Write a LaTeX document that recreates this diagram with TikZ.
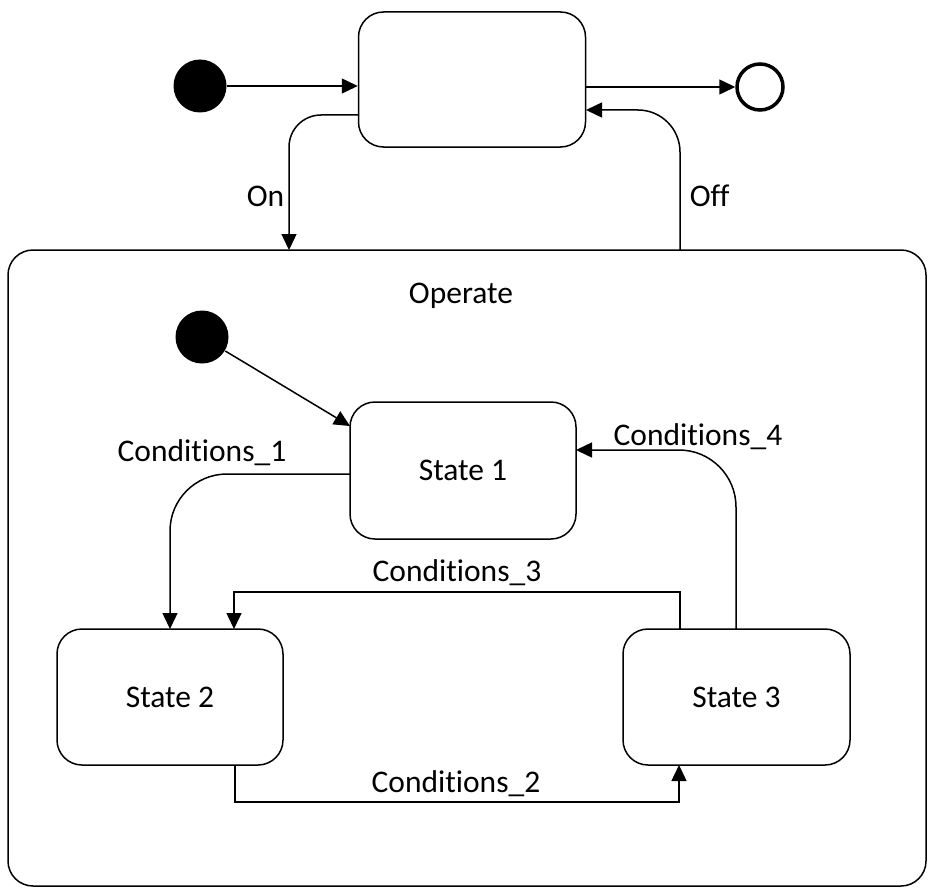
\documentclass[tikz,border=0pt]{standalone}
\usepackage{fontspec}
\setmainfont[Ligatures=NoCommon, RawFeature=-liga]{Carlito}
\usetikzlibrary{arrows.meta}
\begin{document}
\begin{tikzpicture}[x=1pt,y=-1pt,
  line width=1.5pt,
  every node/.style={font=\fontsize{31.5}{36}\selectfont, inner sep=0pt},
  statebox/.style={draw, rounded corners=25pt, minimum width=#1, minimum height=136pt},
  startdot/.style={circle, fill=black, minimum size=53pt},
  enddot/.style={circle, draw, line width=3.5pt, minimum size=46pt},
  arr/.style={-{Triangle[length=16pt,width=15pt]}}
]
\useasboundingbox (0,0) rectangle (928,888);

% outer states
\node[draw, rounded corners=25pt, minimum width=918pt, minimum height=636pt] (operate) at (467,568) {};
\node[statebox=227pt, minimum height=135pt] (top) at (472,79.5) {};
\node[startdot] (init) at (200,86) {};
\node[enddot] (final) at (760,87) {};

\coordinate (topin) at (top.west |- init);
\coordinate (topout) at (top.east |- final);
\draw[arr] (init) -- (topin);
\draw[arr] (topout) -- (final);

% On / Off
\coordinate (onstart) at (359,115);
\coordinate (onend) at (289,250);
\draw[arr, rounded corners=32pt] (onstart) -| (onend);
\node[anchor=east] (onlbl) at (285,196) {On};

\coordinate (offstart) at (680,250);
\coordinate (offend) at (586,110);
\draw[arr, rounded corners=42pt] (offstart) |- (offend);
\node[anchor=west] (offlbl) at (689,196) {Off};

\node (operatelbl) at (461,296) {Operate};

% inner states
\node[startdot] (init2) at (202,337) {};
\node[statebox=226pt, minimum height=137pt] (s1) at (463,470.5) {State 1};
\node[statebox=226pt] (s2) at (170,697) {State 2};
\node[statebox=227pt] (s3) at (736.5,697) {State 3};

\coordinate (s1tl) at (350,426);
\draw[arr] (init2) -- (s1tl);

% Conditions_1
\coordinate (c1start) at (350,474);
\coordinate (c1end) at (170,629);
\draw[arr, rounded corners=57pt] (c1start) -| (c1end);
\node (c1lbl) at (202,453) {Conditions\_1};

% Conditions_3
\coordinate (c3start) at (680,629);
\coordinate (c3mid) at (680,592);
\coordinate (c3mid2) at (234,592);
\coordinate (c3end) at (234,629);
\draw[arr] (c3start) -- (c3mid) -- (c3mid2) -- (c3end);
\node (c3lbl) at (457,573) {Conditions\_3};

% Conditions_2
\coordinate (c2start) at (235,765);
\coordinate (c2mid) at (235,802);
\coordinate (c2mid2) at (679,802);
\coordinate (c2end) at (679,765);
\draw[arr] (c2start) -- (c2mid) -- (c2mid2) -- (c2end);
\node (c2lbl) at (456,784) {Conditions\_2};

% Conditions_4
\coordinate (c4start) at (736,629);
\coordinate (c4end) at (576,450);
\draw[arr, rounded corners=57pt] (c4start) |- (c4end);
\node (c4lbl) at (698,437) {Conditions\_4};
\end{tikzpicture}
\end{document}
